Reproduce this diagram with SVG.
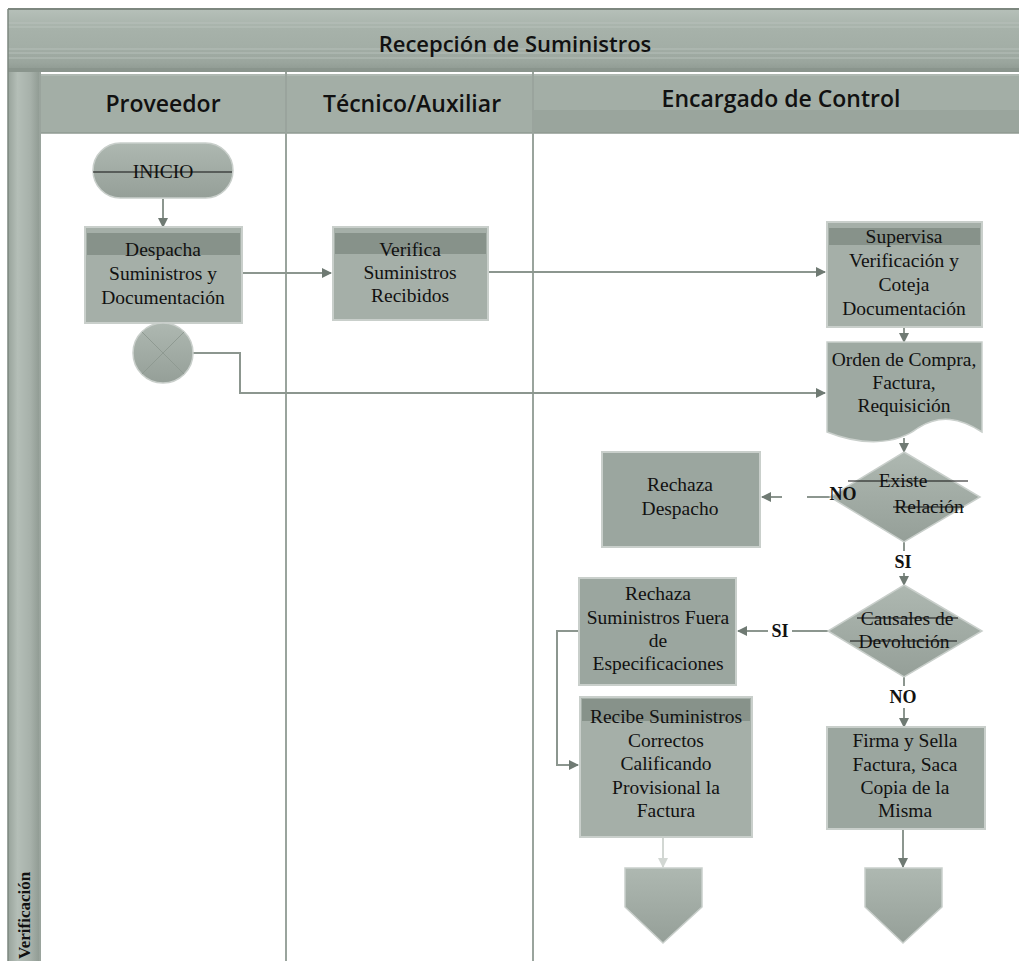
<svg xmlns="http://www.w3.org/2000/svg" width="1019" height="961" viewBox="0 0 1019 961">
<defs>
<linearGradient id="gBand" x1="0" y1="0" x2="0" y2="1">
<stop offset="0" stop-color="#b6c0b9"/><stop offset="0.3" stop-color="#a7b2aa"/><stop offset="0.6" stop-color="#a3aea6"/><stop offset="0.85" stop-color="#9aa59d"/><stop offset="1" stop-color="#8c978f"/>
</linearGradient>
<linearGradient id="gLeft" x1="0" y1="0" x2="1" y2="0">
<stop offset="0" stop-color="#98a39b"/><stop offset="0.3" stop-color="#b4beb7"/><stop offset="0.7" stop-color="#a7b1aa"/><stop offset="1" stop-color="#8f9a92"/>
</linearGradient>
<linearGradient id="gShape" x1="0" y1="0" x2="0" y2="1">
<stop offset="0" stop-color="#aeb8b1"/><stop offset="1" stop-color="#959f98"/>
</linearGradient>
<marker id="arr" viewBox="0 0 10 10" refX="9" refY="5" markerWidth="5" markerHeight="5" orient="auto">
<path d="M0,0 L10,5 L0,10 Z" fill="#6f7a73"/>
</marker>
<marker id="arrL" viewBox="0 0 10 10" refX="9" refY="5" markerWidth="5" markerHeight="5" orient="auto">
<path d="M0,0 L10,5 L0,10 Z" fill="#d2d7d3"/>
</marker>
</defs>
<style>
.t{font-family:"Liberation Serif","Times New Roman",serif;font-size:19.5px;fill:#111;text-anchor:middle}
.lbl{font-family:"Liberation Serif","Times New Roman",serif;font-size:18px;font-weight:bold;fill:#111;text-anchor:middle}
.hd{font-family:"Open Sans","DejaVu Sans",sans-serif;font-size:23px;font-weight:600;fill:#111;text-anchor:middle}
.box{fill:#a5afa8;stroke:#c9cfcb;stroke-width:2}
.boxd{fill:#9ba69f;stroke:#c9cfcb;stroke-width:2}
.band{fill:#87928a}
.c{fill:none;stroke:#8c968f;stroke-width:2}
.s{stroke:#111;stroke-width:1.2}
.lane{stroke:#9aa49d;stroke-width:2}
</style>
<rect width="1019" height="961" fill="#ffffff"/>
<g id="pool">
<rect x="8" y="9" width="1011" height="63" fill="url(#gBand)"/>
<line x1="8" y1="9" x2="1019" y2="9" stroke="#7d877f" stroke-width="2"/>
<g stroke="#bcc5bf" stroke-width="1" opacity="0.8">
<line x1="8" y1="23" x2="1019" y2="23"/><line x1="8" y1="27" x2="1019" y2="27"/><line x1="8" y1="49" x2="1019" y2="49"/><line x1="8" y1="53" x2="1019" y2="53"/><line x1="8" y1="58" x2="1019" y2="58"/>
</g>
<rect x="8" y="68" width="1011" height="4" fill="#8a958d"/>
<text class="hd" x="515" y="52" style="font-size:22px">Recepción de Suministros</text>
<rect x="8" y="72" width="32" height="889" fill="url(#gLeft)"/>
<line x1="8" y1="9" x2="8" y2="961" stroke="#7d877f" stroke-width="1.5"/>
<text x="30" y="959" transform="rotate(-90 30 959)" font-family="Liberation Serif,serif" font-size="17" font-weight="bold" fill="#111">Verificación</text>
<rect x="40" y="74" width="979" height="59" fill="#a3aea6"/>
<rect x="533" y="110" width="486" height="23" fill="#9aa59d"/>
<line x1="40" y1="75" x2="1019" y2="75" stroke="#bac3bd" stroke-width="1"/>
<line x1="40" y1="133" x2="1019" y2="133" stroke="#8f9a92" stroke-width="1.5"/>
<text class="hd" x="163" y="112">Proveedor</text>
<text class="hd" x="412" y="112">Técnico/Auxiliar</text>
<text class="hd" x="781" y="107">Encargado de Control</text>
<line class="lane" x1="40" y1="72" x2="40" y2="961"/>
<line class="lane" x1="286" y1="72" x2="286" y2="961"/>
<line class="lane" x1="533" y1="72" x2="533" y2="961"/>
</g>
<g id="connectors">
<line class="c" x1="163" y1="199" x2="163" y2="227" marker-end="url(#arr)"/>
<line class="c" x1="242" y1="273" x2="331" y2="273" marker-end="url(#arr)"/>
<line class="c" x1="488" y1="272" x2="825" y2="272" marker-end="url(#arr)"/>
<polyline class="c" points="193,353 240,353 240,393 825,393" marker-end="url(#arr)"/>
<line class="c" x1="904" y1="328" x2="904" y2="342" marker-end="url(#arr)"/>
<line class="c" x1="904" y1="438" x2="904" y2="452" marker-end="url(#arr)"/>
<line class="c" x1="830" y1="497" x2="807" y2="497"/>
<line class="c" x1="782" y1="497" x2="762" y2="497" marker-end="url(#arr)"/>
<line class="c" x1="904" y1="542" x2="904" y2="585" marker-end="url(#arr)"/>
<line class="c" x1="828" y1="631" x2="738" y2="631" marker-end="url(#arr)"/>
<polyline class="c" points="579,631 557,631 557,765 578,765" marker-end="url(#arr)"/>
<line class="c" x1="904" y1="677" x2="904" y2="727" marker-end="url(#arr)"/>
<line x1="663" y1="838" x2="663" y2="867" stroke="#d2d7d3" stroke-width="2" marker-end="url(#arrL)"/>
<line class="c" x1="903" y1="829" x2="903" y2="867" marker-end="url(#arr)"/>
<rect x="891" y="551" width="25" height="22" fill="#fff"/>
<text class="lbl" x="903" y="568">SI</text>
<rect x="768" y="620" width="24" height="20" fill="#fff"/>
<text class="lbl" x="780" y="637">SI</text>
<rect x="887" y="686" width="33" height="22" fill="#fff"/>
<text class="lbl" x="903" y="703">NO</text>
</g>
<g id="inicio">
<rect x="93" y="143" width="140" height="55" rx="27.5" fill="url(#gShape)" stroke="#c9cfcb" stroke-width="1.5"/>
<text class="t" x="163" y="178">INICIO</text>
<line class="s" x1="93" y1="172" x2="232" y2="172"/>
</g>
<g id="despacha">
<rect class="box" x="85" y="227" width="157" height="96" fill="#b0b9b2"/>
<rect class="band" x="87" y="233" width="153" height="22"/>
<text class="t" x="163" y="256">Despacha</text>
<text class="t" x="163" y="280">Suministros y</text>
<text class="t" x="163" y="304">Documentación</text>
</g>
<g id="conector-x">
<circle cx="163" cy="353" r="30" fill="url(#gShape)" stroke="#c9cfcb" stroke-width="1.5"/>
<line x1="142" y1="332" x2="184" y2="374" stroke="#8f9a92" stroke-width="1"/>
<line x1="184" y1="332" x2="142" y2="374" stroke="#8f9a92" stroke-width="1"/>
</g>
<g id="verifica">
<rect class="box" x="333" y="227" width="155" height="93" fill="#b0b9b2"/>
<rect class="band" x="335" y="233" width="151" height="21"/>
<text class="t" x="410" y="256">Verifica</text>
<text class="t" x="410" y="279">Suministros</text>
<text class="t" x="410" y="302">Recibidos</text>
</g>
<g id="supervisa">
<rect class="box" x="827" y="222" width="155" height="105" fill="#b0b9b2"/>
<rect class="band" x="829" y="228" width="151" height="17"/>
<text class="t" x="904" y="243">Supervisa</text>
<text class="t" x="904" y="267">Verificación y</text>
<text class="t" x="904" y="291">Coteja</text>
<text class="t" x="904" y="315">Documentación</text>
</g>
<g id="orden">
<path d="M827,342 H982 V432 C960,418 940,414 918,428 C896,445 862,446 827,432 Z" fill="#9ea9a2" stroke="#c9cfcb" stroke-width="1.5"/>
<text class="t" x="904" y="366">Orden de Compra,</text>
<text class="t" x="904" y="389">Factura,</text>
<text class="t" x="904" y="412">Requisición</text>
</g>
<g id="existe">
<polygon points="904,452 980,497 904,542 830,497" fill="url(#gShape)" stroke="#c9cfcb" stroke-width="1.5"/>
<text class="t" x="903" y="487">Existe</text>
<line class="s" x1="848" y1="481" x2="968" y2="481"/>
<text class="t" x="929" y="513">Relación</text>
<line class="s" x1="893" y1="507" x2="964" y2="507"/>
<text class="lbl" x="843" y="500">NO</text>
</g>
<g id="rechaza-despacho">
<rect class="boxd" x="602" y="452" width="158" height="95"/>
<text class="t" x="680" y="491">Rechaza</text>
<text class="t" x="680" y="515">Despacho</text>
</g>
<g id="causales">
<polygon points="904,585 982,631 904,677 828,631" fill="url(#gShape)" stroke="#c9cfcb" stroke-width="1.5"/>
<text class="t" x="907" y="625">Causales de</text>
<line class="s" x1="857" y1="618" x2="958" y2="618"/>
<text class="t" x="904" y="648">Devolución</text>
<line class="s" x1="850" y1="641" x2="957" y2="641"/>
</g>
<g id="rechaza-suministros">
<rect class="boxd" x="579" y="578" width="157" height="107"/>
<text class="t" x="658" y="600">Rechaza</text>
<text class="t" x="658" y="624">Suministros Fuera</text>
<text class="t" x="658" y="647">de</text>
<text class="t" x="658" y="670">Especificaciones</text>
</g>
<g id="recibe">
<rect class="box" x="580" y="697" width="172" height="140" fill="#adb6af"/>
<rect class="band" x="582" y="699" width="168" height="22"/>
<text class="t" x="666" y="723">Recibe Suministros</text>
<text class="t" x="666" y="747">Correctos</text>
<text class="t" x="666" y="770">Calificando</text>
<text class="t" x="666" y="794">Provisional la</text>
<text class="t" x="666" y="817">Factura</text>
</g>
<g id="firma">
<rect class="boxd" x="827" y="727" width="158" height="102"/>
<text class="t" x="905" y="747">Firma y Sella</text>
<text class="t" x="905" y="771">Factura, Saca</text>
<text class="t" x="905" y="794">Copia de la</text>
<text class="t" x="905" y="817">Misma</text>
</g>
<g id="fin-1">
<polygon points="625,868 702,868 702,907 663,943 625,907" fill="url(#gShape)" stroke="#c9cfcb" stroke-width="1.5"/>
</g>
<g id="fin-2">
<polygon points="865,868 942,868 942,907 903,943 865,907" fill="url(#gShape)" stroke="#c9cfcb" stroke-width="1.5"/>
</g>
</svg>
